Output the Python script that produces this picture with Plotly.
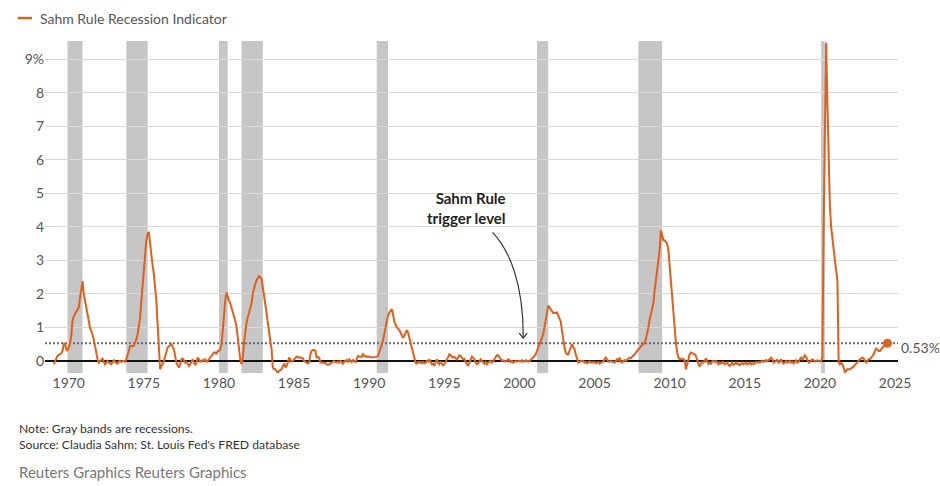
import plotly.graph_objects as go

# ---- Data: monthly Sahm Rule Recession Indicator (percentage points), starting Jan 1969 ----
start_year = 1969
s1969 = [-0.1, 0.0, 0.05, 0.15, 0.18, 0.2, 0.22, 0.3, 0.5, 0.52, 0.35, 0.3]
s1970s = [
    0.4, 0.5, 0.75, 1.2, 1.33, 1.4, 1.45, 1.5, 1.6, 1.9, 2.2, 2.38,
    2.0, 1.75, 1.55, 1.4, 1.2, 0.98, 0.9, 0.8, 0.65, 0.45, 0.2, 0.05,
    -0.05, 0.0, 0.03, 0.07, -0.02, -0.1, -0.05, 0.0, -0.05, -0.08, -0.1, -0.03,
    0.02, -0.03, -0.05, -0.08, -0.02, 0.0, -0.03, 0.0, 0.0, -0.03, 0.05, 0.15,
    0.3, 0.44, 0.45, 0.44, 0.45, 0.55, 0.64, 0.8, 1.0, 1.3, 1.8, 2.3,
    2.7, 3.3, 3.6, 3.8, 3.85, 3.5, 3.1, 2.85, 2.6, 2.2, 1.8, 1.1,
    0.35, -0.25, -0.15, -0.1, 0.0, 0.15, 0.3, 0.4, 0.44, 0.48, 0.5, 0.42,
    0.35, 0.15, -0.05, -0.12, -0.2, -0.1, 0.05, 0.07, 0.02, -0.05, -0.03, -0.1,
    -0.15, -0.1, 0.0, 0.05, -0.05, -0.12, -0.05, 0.1, 0.05, -0.02, 0.0, 0.03,
    0.0, 0.05, -0.02, 0.0, 0.05, 0.12, 0.15, 0.2, 0.25, 0.25, 0.2, 0.3,
]
s1980s = [
    0.3, 0.35, 0.5, 0.9, 1.4, 1.8, 2.04, 1.9, 1.8, 1.72, 1.6, 1.43,
    1.35, 1.2, 1.03, 0.7, 0.35, 0.05, -0.1, 0.1, 0.54, 0.9, 1.13, 1.3,
    1.43, 1.6, 1.72, 2.0, 2.2, 2.3, 2.4, 2.48, 2.53, 2.5, 2.46, 2.2,
    2.0, 1.7, 1.43, 1.2, 0.94, 0.6, 0.35, -0.2, -0.25, -0.25, -0.3, -0.35,
    -0.3, -0.28, -0.25, -0.15, -0.1, -0.18, -0.15, -0.05, 0.1, 0.05, -0.02, 0.0,
    0.05, 0.08, 0.13, 0.1, 0.12, 0.1, 0.1, 0.08, 0.0, -0.03, -0.05, -0.07,
    -0.05, 0.2, 0.3, 0.33, 0.33, 0.3, 0.1, 0.12, 0.1, -0.05, -0.05, -0.05,
    -0.05, -0.06, -0.1, -0.12, -0.1, -0.08, -0.05, -0.03, 0.0, -0.03, -0.05, -0.02,
    -0.05, 0.0, -0.03, -0.1, -0.02, 0.0, 0.03, -0.02, 0.05, 0.0, -0.03, 0.03,
    0.0, -0.03, 0.05, 0.15, 0.13, 0.12, 0.12, 0.2, 0.15, 0.15, 0.12, 0.13,
]
s1990s = [
    0.13, 0.12, 0.1, 0.1, 0.12, 0.1, 0.12, 0.15, 0.25, 0.35, 0.5, 0.6,
    0.8, 1.0, 1.23, 1.35, 1.43, 1.5, 1.55, 1.4, 1.18, 1.1, 1.0, 0.97,
    0.93, 0.85, 0.75, 0.69, 0.75, 0.85, 0.92, 0.85, 0.69, 0.5, 0.35, 0.25,
    0.1, -0.05, -0.08, -0.03, -0.05, -0.03, -0.07, -0.03, -0.07, -0.05, 0.0, -0.02,
    0.05, -0.05, -0.1, -0.08, -0.15, -0.05, 0.05, -0.05, -0.1, -0.02, -0.08, -0.13,
    -0.1, -0.05, 0.05, 0.1, 0.2, 0.17, 0.15, 0.1, 0.12, 0.07, 0.05, 0.1,
    0.17, 0.15, 0.1, 0.05, 0.07, -0.05, -0.1, -0.15, -0.05, 0.05, 0.13, 0.1,
    0.05, -0.05, -0.1, -0.08, -0.03, 0.05, 0.0, -0.05, -0.08, -0.03, -0.1, -0.05,
    -0.03, 0.0, -0.05, -0.02, 0.05, 0.1, 0.17, 0.17, 0.1, 0.05, 0.0, 0.02,
    0.0, -0.02, 0.0, 0.05, 0.03, -0.03, 0.0, -0.05, -0.03, 0.0, -0.02, 0.0,
]
s2000s = [
    0.0, -0.02, 0.02, -0.03, 0.0, 0.02, 0.0, -0.02, 0.0, 0.03, 0.05, 0.1,
    0.15, 0.2, 0.3, 0.4, 0.5, 0.6, 0.7, 0.79, 1.0, 1.23, 1.45, 1.65,
    1.6, 1.53, 1.48, 1.43, 1.43, 1.45, 1.45, 1.35, 1.25, 1.18, 0.9, 0.6,
    0.4, 0.25, 0.2, 0.2, 0.3, 0.45, 0.5, 0.42, 0.35, 0.2, 0.05, -0.05,
    -0.03, 0.0, -0.02, 0.0, -0.05, -0.03, -0.07, -0.03, -0.02, -0.05, -0.03, -0.05,
    -0.03, -0.07, -0.05, -0.03, -0.08, -0.05, -0.03, -0.02, 0.05, 0.1, 0.05, -0.03,
    -0.02, 0.0, -0.03, -0.02, -0.05, 0.0, 0.05, 0.02, 0.1, -0.02, -0.05, 0.0,
    0.03, 0.0, 0.05, 0.07, 0.1, 0.08, 0.12, 0.15, 0.2, 0.25, 0.3, 0.36,
    0.4, 0.45, 0.48, 0.5, 0.55, 0.65, 0.79, 1.0, 1.23, 1.4, 1.55, 1.72,
    2.1, 2.4, 2.7, 3.0, 3.3, 3.9, 3.75, 3.6, 3.6, 3.55, 3.5, 3.3,
]
s2010s = [
    2.8, 2.3, 1.9, 1.33, 0.9, 0.54, 0.25, 0.1, 0.05, 0.07, 0.07, 0.05,
    0.03, -0.25, -0.1, 0.1, 0.2, 0.25, 0.23, 0.2, 0.2, 0.15, 0.0, -0.1,
    -0.15, -0.1, -0.03, -0.05, 0.02, 0.07, 0.0, -0.1, -0.05, -0.08, -0.02, 0.0,
    -0.03, 0.0, -0.05, -0.1, -0.05, -0.08, -0.03, -0.05, -0.1, -0.07, -0.05, -0.12,
    -0.15, -0.1, -0.05, -0.12, -0.07, -0.05, -0.1, -0.08, -0.13, -0.1, -0.05, -0.1,
    -0.07, -0.05, -0.1, -0.08, -0.05, -0.1, -0.07, -0.1, -0.05, -0.03, -0.05, -0.03,
    -0.05, -0.02, 0.0, -0.03, -0.01, 0.03, 0.0, 0.02, 0.05, 0.1, 0.05, -0.05,
    -0.03, 0.0, 0.05, -0.05, -0.02, 0.05, -0.03, -0.08, -0.05, 0.0, -0.05, -0.03,
    0.0, -0.05, -0.02, -0.07, -0.03, 0.02, -0.05, -0.02, 0.05, 0.1, 0.03, 0.1,
    0.17, 0.12, 0.05, -0.05, -0.03, 0.0, 0.05, 0.02, -0.02, 0.0, 0.02, 0.0,
]
s2020s = [
    -0.02, 0.0, 0.1, 4.0, 7.3, 9.5, 7.7, 5.6, 4.6, 4.0, 3.6, 3.2,
    3.0, 2.7, 2.4, -0.05, -0.1, -0.05, -0.1, -0.2, -0.33, -0.3, -0.25, -0.25,
    -0.25, -0.22, -0.2, -0.17, -0.12, -0.07, -0.05, 0.0, 0.05, 0.07, 0.1, 0.07,
    0.0, -0.05, 0.0, 0.05, 0.05, 0.1, 0.15, 0.2, 0.3, 0.37, 0.33, 0.3,
    0.3, 0.35, 0.4, 0.44, 0.45, 0.48, 0.53,
]

# NBER recessions (year, month) start and end
rec_start = [(1969, 12), (1973, 11), (1980, 1), (1981, 7), (1990, 7), (2001, 3), (2007, 12), (2020, 2)]
rec_end = [(1970, 11), (1975, 3), (1980, 7), (1982, 11), (1991, 3), (2001, 11), (2009, 6), (2020, 4)]

trigger_level = 0.53
series_name = "Sahm Rule Recession Indicator"
x_ticks = list(range(1970, 2026, 5))
y_ticks = list(range(0, 10))
y_ticktext = [str(v) for v in y_ticks[:-1]] + ["9%"]

# ---- Build ----
values = s1969 + s1970s + s1980s + s1990s + s2000s + s2010s + s2020s
x = [start_year + i / 12 for i in range(len(values))]

ORANGE = "#e0601a"
FONT = "Lato, 'Source Sans Pro', sans-serif"

W, H = 940, 486
PL, PT, PR, PB = 45, 41, 898, 373          # plot area in pixels
ML, MT, MR, MB = PL, PT, W - PR, H - PB
pw, ph = W - ML - MR, H - MT - MB


def px_x(px):
    return (px - ML) / pw


def px_y(py):
    return (H - MB - py) / ph


fig = go.Figure()
fig.add_trace(go.Scatter(
    x=x, y=values, mode="lines", name=series_name,
    line=dict(color=ORANGE, width=2), showlegend=False,
))
fig.add_trace(go.Scatter(
    x=[x[-1]], y=[values[-1]], mode="markers", showlegend=False,
    marker=dict(color=ORANGE, size=9), hoverinfo="skip",
))

shapes = []
for (sy, sm), (ey, em) in zip(rec_start, rec_end):
    shapes.append(dict(
        type="rect", xref="x", yref="paper",
        x0=sy + (sm - 1) / 12, x1=ey + em / 12, y0=0, y1=1,
        fillcolor="#c6c6c6", line=dict(width=0), layer="between",
    ))
# trigger level dotted line
shapes.append(dict(
    type="line", xref="paper", yref="y", x0=0, x1=1,
    y0=trigger_level, y1=trigger_level,
    line=dict(color="#6b6b6b", width=2, dash="2px,2px"), layer="between",
))
# curved arrow for annotation
shapes.append(dict(
    type="path", xref="x", yref="y",
    path="M 1998.21,3.84 C 1999.36,3.30 2000.29,2.26 2000.25,0.68",
    line=dict(color="#333333", width=1.2),
))
shapes.append(dict(
    type="path", xref="x", yref="y",
    path="M 1999.98,0.83 L 2000.25,0.68 L 2000.52,0.83",
    line=dict(color="#333333", width=1.2),
))
# legend key line
shapes.append(dict(
    type="line", xref="paper", yref="paper",
    x0=px_x(18), x1=px_x(32), y0=px_y(18), y1=px_y(18),
    line=dict(color=ORANGE, width=2.5),
))

annotations = [
    dict(x=px_x(38), y=px_y(18), xref="paper", yref="paper", text=series_name,
         showarrow=False, xanchor="left", yanchor="middle",
         font=dict(family=FONT, size=14, color="#555555")),
    dict(x=1999.25, y=4.57, xref="x", yref="y", text="<b>Sahm Rule<br>trigger level</b>",
         showarrow=False, xanchor="right", yanchor="middle", align="right",
         font=dict(family=FONT, size=15, color="#222222")),
    dict(x=1, y=trigger_level, xref="paper", yref="y", text="0.53%", showarrow=False,
         xanchor="left", yanchor="middle", xshift=1, yshift=-4,
         font=dict(family=FONT, size=14, color="#555555")),
    dict(x=px_x(17), y=px_y(428), xref="paper", yref="paper",
         text="Note: Gray bands are recessions.",
         showarrow=False, xanchor="left", yanchor="middle",
         font=dict(family=FONT, size=12.2, color="#333333")),
    dict(x=px_x(17), y=px_y(444), xref="paper", yref="paper",
         text="Source: Claudia Sahm; St. Louis Fed's FRED database",
         showarrow=False, xanchor="left", yanchor="middle",
         font=dict(family=FONT, size=12.2, color="#333333")),
    dict(x=px_x(17), y=px_y(472), xref="paper", yref="paper",
         text="Reuters Graphics Reuters Graphics",
         showarrow=False, xanchor="left", yanchor="middle",
         font=dict(family=FONT, size=15, color="#777777")),
]

fig.update_layout(
    width=W, height=H,
    margin=dict(l=ML, r=MR, t=MT, b=MB, autoexpand=False),
    paper_bgcolor="white", plot_bgcolor="white",
    font=dict(family=FONT, size=14, color="#555555"),
    shapes=shapes, annotations=annotations, showlegend=False,
    xaxis=dict(range=[1968.42, 2025.2], tickvals=x_ticks, tickformat="d",
               showgrid=False, zeroline=False, showline=False, ticks="",
               tickfont=dict(family=FONT, size=14, color="#555555")),
    yaxis=dict(range=[-0.36, 9.55], tickvals=y_ticks, ticktext=y_ticktext,
               showgrid=True, gridcolor="#d9d9d9", gridwidth=1,
               zeroline=True, zerolinecolor="#111111", zerolinewidth=1.5,
               showline=False, ticks="",
               tickfont=dict(family=FONT, size=14, color="#555555")),
    hovermode=False,
)

# remove the default 8px page margin so the 940x486 figure fills the window
fig.write_html(
    "out.html",
    config={"displayModeBar": False},
    post_script="document.body.style.margin='0';document.body.style.overflow='hidden';",
)
